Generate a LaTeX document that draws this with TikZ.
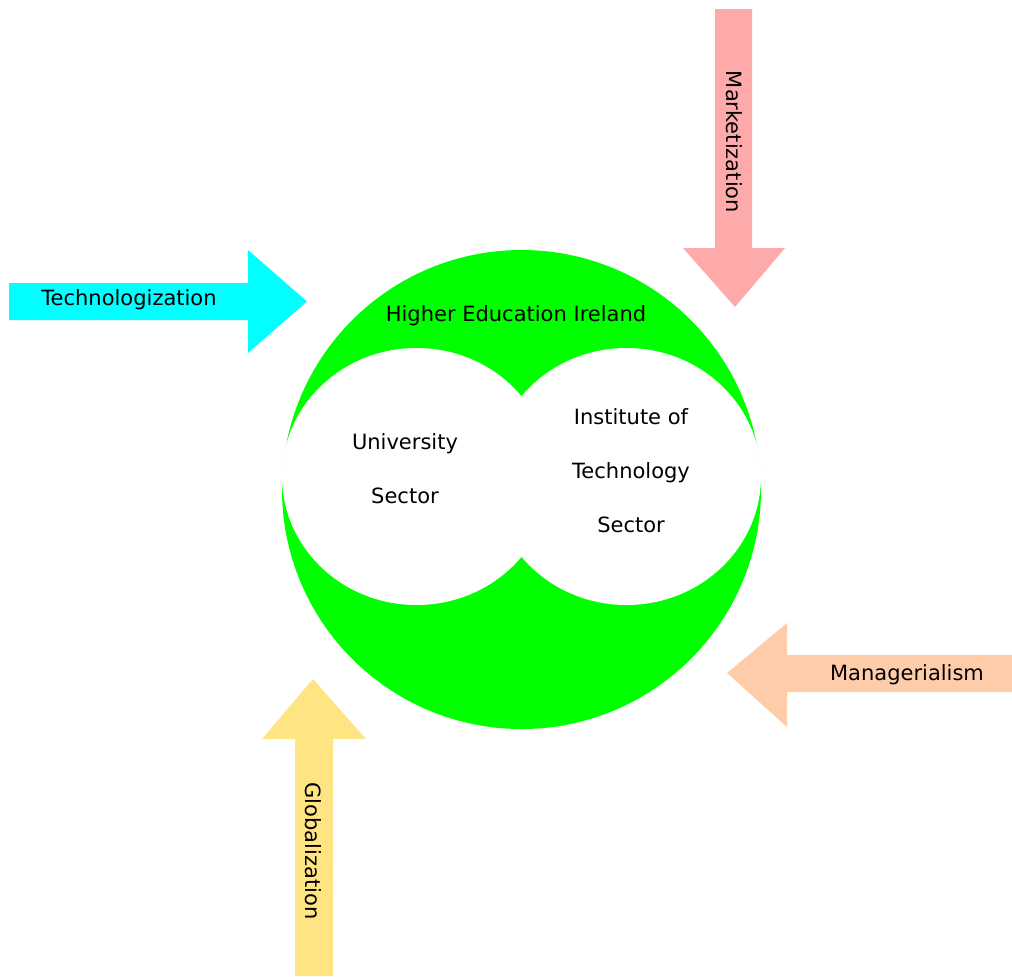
\documentclass[tikz,border=0pt]{standalone}
\usepackage{fontspec}
\setmainfont{DejaVu Sans}
\usepackage{xcolor}
\usepackage{tikz}

\definecolor{hegreen}{RGB}{0,255,0}
\definecolor{techcyan}{RGB}{0,255,255}
\definecolor{marketpink}{RGB}{255,170,170}
\definecolor{managepeach}{RGB}{255,204,170}
\definecolor{globalyellow}{RGB}{255,228,132}

\begin{document}
\begin{tikzpicture}[x=.5pt, y=-.5pt,
    txt/.style={draw=none, font=\fontsize{10.5}{27}\selectfont, align=center, inner sep=0pt}]
             \useasboundingbox (0,0) rectangle (1012,976);

             % the sector and its two parts
             \fill[hegreen] (521.5,489.5) circle[radius=239.5];
             \fill[white] (416.5,476.5) ellipse (134.5 and 128.5);
             \fill[white] (626.5,476.5) ellipse (134.5 and 128.5);

             \node[txt] (hei) at (516,316) {Higher Education Ireland};
             \node[txt] (uni) at (405,468.5) {University\\Sector};
             \node[txt] (iot) at (631,470.5) {Institute of\\Technology\\Sector};

             % the four forces
             \fill[techcyan] (9,283) -- (248,283) -- (248,250) -- (307,301.5)
                 -- (248,353) -- (248,320) -- (9,320) -- cycle;
             \node[txt] (tech) at (129,299.5) {Technologization};

             \fill[marketpink] (715,9) -- (752,9) -- (752,248) -- (785,248)
                 -- (735,307) -- (683,248) -- (715,248) -- cycle;
             \node[txt, rotate=-90] (market) at (734,142) {Marketization};

             \fill[managepeach] (1012,655) -- (787,655) -- (787,623) -- (727,673)
                 -- (787,727) -- (787,692) -- (1012,692) -- cycle;
             \node[txt] (manage) at (907,675) {Managerialism};

             \fill[globalyellow] (295,976) -- (295,739) -- (262,739) -- (313,679)
                 -- (366,739) -- (333,739) -- (333,976) -- cycle;
             \node[txt, rotate=-90] (global) at (313,851) {Globalization};
\end{tikzpicture}
\end{document}
